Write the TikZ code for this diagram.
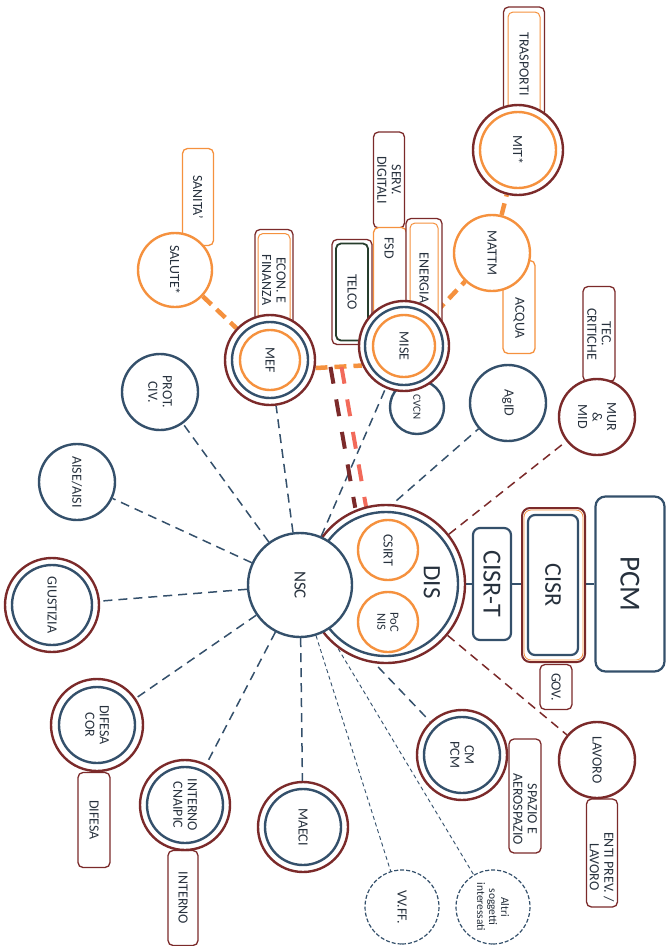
\documentclass[tikz,border=0pt]{standalone}
\usepackage{fontspec}
\setmainfont{Carlito}
\usepackage{tikz}
\usetikzlibrary{backgrounds,calc}
\definecolor{nblue}{HTML}{34506B}
\definecolor{dred}{HTML}{7B2A2A}
\definecolor{orng}{HTML}{F5913E}
\definecolor{salm}{HTML}{F26A5A}
\definecolor{dgreen}{HTML}{263D2C}
\definecolor{txt}{HTML}{27313D}

\begin{document}
\begin{tikzpicture}
[x=1pt,y=-1pt,
 lbl/.style={rotate=-90,align=center,text=txt,font=\fontsize{14}{14.5}\selectfont},
 ring/.style={circle,draw=#1,line width=2.4pt,fill=white,inner sep=0pt},
 dashring/.style={circle,draw=nblue,line width=1.2pt,dash pattern=on 4pt off 2pt,fill=white,inner sep=0pt},
 tagbox/.style={rectangle,draw=#1,line width=1.3pt,rounded corners=5pt,fill=white,inner sep=0pt,
   rotate=-90,align=center,text=txt,font=\fontsize{14}{14.5}\selectfont},
 spoke/.style={draw=nblue,line width=1.5pt,dash pattern=on 9pt off 6pt},
 spokefine/.style={draw=nblue,line width=0.9pt,dash pattern=on 4pt off 3pt},
 reddash/.style={draw=dred,line width=1.5pt,dash pattern=on 9pt off 6pt},
 orlink/.style={draw=orng,line width=4.5pt,dash pattern=on 12pt off 7pt},
 bar/.style={line width=4pt,dash pattern=on 17pt off 16pt}]
\useasboundingbox (0,0) rectangle (669,946);

% boxes behind the circles
\node[tagbox=dred, minimum width=110pt, minimum height=41pt] (trasp) at (524,62) {};
\node[tagbox=orng, minimum width=104pt, minimum height=32pt, line width=1pt] (traspin) at (524,64) {TRASPORTI};
\node[tagbox=orng, minimum width=93pt, minimum height=32pt] (acqua) at (519,307) {};
\node[lbl] (acqualbl) at (519,318) {ACQUA};
\node[tagbox=dred, minimum width=95pt, minimum height=32pt] (tecc) at (599,334) {TEC.\\CRITICHE};
\node[tagbox=dred, minimum width=96pt, minimum height=31pt] (serv) at (389,180) {SERV.\\DIGITALI};
\node[tagbox=orng, minimum width=105pt, minimum height=33pt] (fsd) at (390,280) {};
\node[lbl] (fsdlbl) at (389,248) {FSD};
\node[tagbox=dred, minimum width=115pt, minimum height=36pt] (energia) at (424,276) {};
\node[tagbox=orng, minimum width=110pt, minimum height=28pt, line width=1pt] (energiain) at (424,278) {ENERGIA};
\node[tagbox=dred, minimum width=105pt, minimum height=40pt] (telco) at (352,292) {};
\node[tagbox=dgreen, minimum width=97pt, minimum height=32pt, line width=1.8pt] (telcoin) at (352,292) {TELCO};
\node[tagbox=orng, minimum width=97pt, minimum height=31pt] (sanita) at (198,197) {SANITA'};
\node[tagbox=dred, minimum width=97pt, minimum height=38pt] (econ) at (274,278) {};
\node[tagbox=orng, minimum width=93pt, minimum height=32pt, line width=1pt] (econin) at (274,280) {ECON. E\\FINANZA};
\node[tagbox=dred, minimum width=95pt, minimum height=32pt] (difesa) at (94,820) {DIFESA};
\node[tagbox=dred, minimum width=95pt, minimum height=30pt] (interno) at (183,898) {INTERNO};
\node[tagbox=dred, minimum width=114pt, minimum height=32pt] (spazio) at (525,796) {};
\node[lbl] (spaziolbl) at (525,809) {SPAZIO E\\AEROSPAZIO};
\node[tagbox=dred, minimum width=108pt, minimum height=31pt] (enti) at (602,853) {};
\node[lbl] (entilbl) at (602,867) {ENTI PREV. /\\LAVORO};
\node[tagbox=dred, minimum width=45pt, minimum height=32pt] (gov) at (556,687) {GOV.};

% government chain
\node[tagbox=nblue, minimum width=112pt, minimum height=38pt, rounded corners=7pt, line width=2.2pt,
  font=\fontsize{26}{28}\selectfont] (cisrt) at (492,584) {CISR-T};
\node[tagbox=dred, minimum width=154pt, minimum height=63pt, rounded corners=8pt, line width=2pt] (cisrout) at (553.5,585) {};
\node[tagbox=orng, minimum width=150pt, minimum height=59pt, rounded corners=7pt, line width=0.8pt] (cisrmid) at (553.5,585) {};
\node[tagbox=nblue, minimum width=140pt, minimum height=50pt, rounded corners=7pt, line width=2.2pt,
  font=\fontsize{24}{26}\selectfont] (cisr) at (553,585) {CISR};
\node[tagbox=nblue, minimum width=175pt, minimum height=69pt, rounded corners=10pt, line width=2.2pt,
  font=\fontsize{29}{31}\selectfont] (pcm) at (630,584) {PCM};

% circles, top part
\node[ring=dred, minimum size=90pt] (mit) at (518,150) {};
\node[ring=orng, minimum size=76pt, lbl] (mito) at (mit) {MIT*};
\node[ring=orng, minimum size=76pt, lbl] (mattm) at (492,253) {MATTM};
\node[ring=nblue, minimum size=54pt, lbl, font=\fontsize{11}{12}\selectfont] (cvcn) at (417,407) {CVCN};
\node[ring=dred, minimum size=90pt] (mise) at (404,346) {};
\node[ring=nblue, minimum size=78pt] (miseb) at (mise) {};
\node[ring=orng, minimum size=62pt, lbl] (miseo) at (mise) {MISE};
\node[ring=nblue, minimum size=76pt, lbl] (agid) at (508,403) {AgID};
\node[ring=dred, minimum size=76pt, lbl] (mur) at (597,417) {MUR\\\&\\MID};
\node[ring=orng, minimum size=74pt, lbl] (salute) at (175,270) {SALUTE*};
\node[ring=dred, minimum size=90pt] (mef) at (270,360) {};
\node[ring=nblue, minimum size=76pt] (mefb) at (mef) {};
\node[ring=orng, minimum size=60pt, lbl] (mefo) at (mef) {MEF};
\node[ring=nblue, minimum size=76pt, lbl] (prot) at (160,392) {PROT.\\CIV.};
\node[ring=nblue, minimum size=76pt, lbl] (aise) at (77,482) {AISE/AISI};

% circles, bottom part
\node[ring=dred, minimum size=94pt] (giust) at (52,605) {};
\node[ring=nblue, minimum size=80pt, lbl] (giustb) at (giust) {GIUSTIZIA};
\node[ring=dred, minimum size=92pt] (difcor) at (97,725) {};
\node[ring=nblue, minimum size=76pt, lbl] (difcorb) at (difcor) {DIFESA\\COR};
\node[ring=dred, minimum size=90pt] (intern) at (185,805) {};
\node[ring=nblue, minimum size=76pt, lbl] (internb) at (intern) {INTERNO\\CNAIPIC};
\node[ring=dred, minimum size=90pt] (maeci) at (303,827) {};
\node[ring=nblue, minimum size=76pt, lbl] (maecib) at (maeci) {MAECI};
\node[ring=dred, minimum size=90pt] (cmpcm) at (462,755) {};
\node[ring=nblue, minimum size=76pt, lbl] (cmpcmb) at (cmpcm) {CM\\PCM};
\node[ring=dred, minimum size=76pt, lbl] (lavoro) at (597,760) {LAVORO};
\node[dashring, minimum size=74pt, lbl] (vvff) at (402,907) {VV.FF.};
\node[dashring, minimum size=74pt, lbl, font=\fontsize{11.5}{12}\selectfont] (altri) at (493,907) {Altri\\soggetti\\interessati};

% DIS and NSC
\node[ring=dred, minimum size=158pt] (dis) at (386,584) {};
\node[ring=nblue, minimum size=144pt] (disb) at (dis) {};
\node[ring=orng, minimum size=60pt, lbl] (csirt) at (388,550) {CSIRT};
\node[ring=orng, minimum size=60pt, lbl, font=\fontsize{12.5}{13}\selectfont] (pocnis) at (388,622) {PoC\\NIS};
\node[lbl, font=\fontsize{25}{27}\selectfont] (distxt) at (432,582) {DIS};
\node[ring=nblue, minimum size=104pt, lbl, font=\fontsize{17}{18}\selectfont] (nsc) at (300,585) {NSC};

\begin{pgfonlayer}{background}
\draw[nblue, line width=2pt] (dis) -- (pcm);
\draw[spoke] (nsc) -- (aise);
\draw[spoke] (nsc) -- (prot);
\draw[spoke] (nsc) -- (mef);
\draw[spoke] (nsc) -- (mise);
\draw[spoke] (nsc) -- (agid);
\draw[spoke] (nsc) -- (giust);
\draw[spoke] (nsc) -- (difcor);
\draw[spoke] (nsc) -- (intern);
\draw[spoke] (nsc) -- (maeci);
\draw[spoke] (nsc) -- (cmpcm);
\draw[spokefine] (nsc) -- (vvff);
\draw[spokefine] (nsc) -- (altri);
\draw[reddash] (dis) -- (mur);
\draw[reddash] (dis) -- (lavoro);
\draw[orlink] (salute) -- (mef);
\draw[orlink] (mef.-10) -- (mise.205);
\draw[orlink] (mise) -- (mattm);
\draw[orlink] (mattm) -- (mit);
\coordinate (mm) at ($(mef.-10)!0.45!(mise.205)$);
\draw[bar, dred] ([xshift=-6pt]mm) -- ([xshift=-6pt]dis.108);
\draw[bar, salm] ([xshift=5pt]mm) -- ([xshift=5pt]dis.108);
\end{pgfonlayer}
\end{tikzpicture}
\end{document}
